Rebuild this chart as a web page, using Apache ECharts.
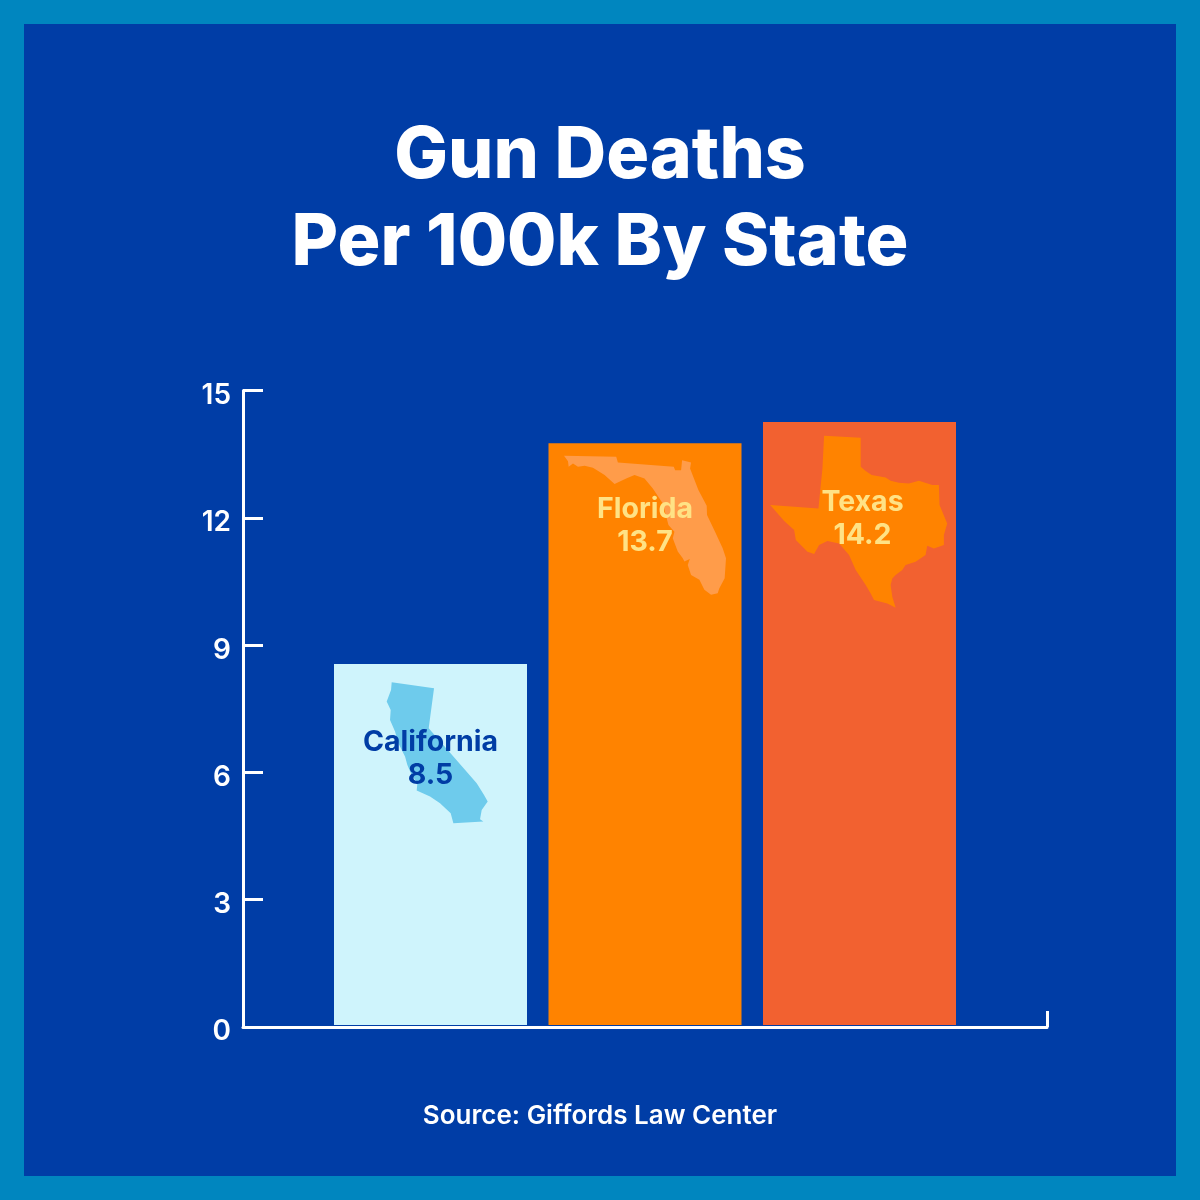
<!DOCTYPE html>
<html>
<head>
<meta charset="utf-8">
<style>html,body{margin:0;padding:0;background:#0086BF}#c{width:1200px;height:1200px}</style>
<script src="https://cdn.jsdelivr.net/npm/echarts@6/dist/echarts.min.js"></script>
</head>
<body>
<div id="c"></div>
<script>
const categories = ['California', 'Florida', 'Texas'];
const deaths = [8.5, 13.7, 14.2];
const yTicks = [0, 3, 6, 9, 12, 15];
const titleText = 'Gun Deaths\nPer 100k By State';
const sourceText = 'Source: Gifford\u0073 Law Center';
const barColors = ['#CFF4FC', '#FF8300', '#F26130'];
const shapeColors = ['#6ECBEC', '#FF9C4A', '#FF8300'];
const labelColors = ['#003DA5', '#FFE285', '#FFE285'];

// Decorative state silhouettes, traced in their own local units
const outlineCA = 'M185 67L312 85L296 205L440 370L462 405L473 425L455 450L450 478L460 485L370 490L362 460L330 430L300 410L260 392L262 370L245 345L232 315L225 290L205 250L195 215L180 180L182 150L170 125L183 90Z';
const outlineFL = 'M58 62L215 65L220 82L388 95L392 105L410 105L413 75L440 82L437 100L462 165L487 212L488 240L512 290L535 340L545 370L541 430L525 460L520 475L500 480L480 465L465 435L440 420L430 390L436 372L420 380L415 370L400 350L385 310L390 290L372 270L355 205L325 160L300 130L270 120L245 130L210 147L180 120L145 98L120 92L100 95L85 85L72 95L70 78Z';
const outlineTX = 'M195 62L305 68L305 155L320 168L338 180L380 187L395 197L420 203L450 205L480 197L520 210L540 210L542 270L565 325L555 360L555 390L525 400L505 392L500 420L470 440L440 450L430 465L410 480L400 490L395 510L400 545L410 578L385 565L345 555L335 535L320 510L290 465L270 420L240 385L205 378L180 390L165 417L145 410L110 375L105 345L75 318L33 270L178 280L190 160Z';

const FONT = 'Inter';
const chart = echarts.init(document.getElementById('c'), null, {renderer: 'canvas'});
const axisWhite = {color: '#FFFFFF', width: 3};

const shapes = [
  {path: outlineCA, size: [101, 141], off: [6.7, 0], y: 6.41},
  {path: outlineFL, size: [162, 139], off: [0, 0], y: 11.766},
  {path: outlineTX, size: [177, 172], off: [-0.8, 0], y: 11.85}
];
const labelTweaks = [
  {dx: 0, top: 62},
  {dx: 0, top: 50},
  {dx: 3, top: 64}
];

chart.setOption({
  animation: false,
  backgroundColor: '#0086BF',
  graphic: [{type: 'rect', z: -10, silent: true, shape: {x: 24, y: 24, width: 1152, height: 1152}, style: {fill: '#003DA6'}}],
  title: [
    {text: titleText, left: 600, top: 113, padding: 0, textAlign: 'center',
     textStyle: {color: '#fff', fontFamily: FONT, fontWeight: 800, fontSize: 71.5, lineHeight: 87}},
    {text: sourceText, left: 600, top: 1101, padding: 0, textAlign: 'center',
     textStyle: {color: '#fff', fontFamily: FONT, fontWeight: 600, fontSize: 26, lineHeight: 30}}
  ],
  grid: [
    {left: 323.25, width: 643.5, top: 388, height: 637},
    {left: 243, width: 804, top: 390.5, height: 636.5}
  ],
  xAxis: [
    {type: 'category', gridIndex: 0, data: categories, show: false},
    {type: 'value', gridIndex: 1, min: 0, max: 1, interval: 1, position: 'bottom', z: 10,
     axisLine: {show: true, lineStyle: axisWhite},
     axisTick: {show: true, inside: true, length: 16, lineStyle: axisWhite},
     axisLabel: {show: false}, splitLine: {show: false}}
  ],
  yAxis: [
    {type: 'value', gridIndex: 0, min: 0, max: 15, show: false},
    {type: 'value', gridIndex: 1, min: 0, max: 15, interval: 3, z: 10,
     axisLine: {show: true, lineStyle: axisWhite},
     axisTick: {show: true, inside: true, length: 20, lineStyle: axisWhite},
     axisLabel: {show: true, margin: 12, color: '#fff', fontFamily: FONT, fontWeight: 600, fontSize: 28,
       verticalAlign: 'top', lineHeight: 10,
       formatter: v => yTicks.includes(v) ? String(v) : ''},
     splitLine: {show: false}}
  ],
  series: [
    {type: 'bar', name: 'Gun deaths per 100k', xAxisIndex: 0, yAxisIndex: 0, barWidth: 193, z: 2, barGap: '-100%',
     data: deaths.map((v, i) => ({value: v, itemStyle: {color: barColors[i]}}))},
    {type: 'scatter', name: 'State shape', xAxisIndex: 0, yAxisIndex: 0, z: 3, silent: true,
     data: shapes.map((s, i) => ({
       value: [categories[i], s.y], symbol: 'path://' + s.path, symbolSize: s.size, symbolOffset: s.off,
       itemStyle: {color: shapeColors[i], opacity: 1}
     }))},
    {type: 'bar', name: 'Labels', xAxisIndex: 0, yAxisIndex: 0, barWidth: 193, z: 4, barGap: '-100%', silent: true,
     itemStyle: {color: 'rgba(0,0,0,0)'},
     data: deaths.map((v, i) => ({
       value: v,
       label: {show: true, position: 'insideTop', distance: labelTweaks[i].top, offset: [labelTweaks[i].dx, 0],
         formatter: p => categories[p.dataIndex] + '\n' + p.value.toFixed(1),
         color: labelColors[i], fontFamily: FONT, fontWeight: 700, fontSize: 28.5, lineHeight: 33}
     }))}
  ]
});
</script>
</body>
</html>
